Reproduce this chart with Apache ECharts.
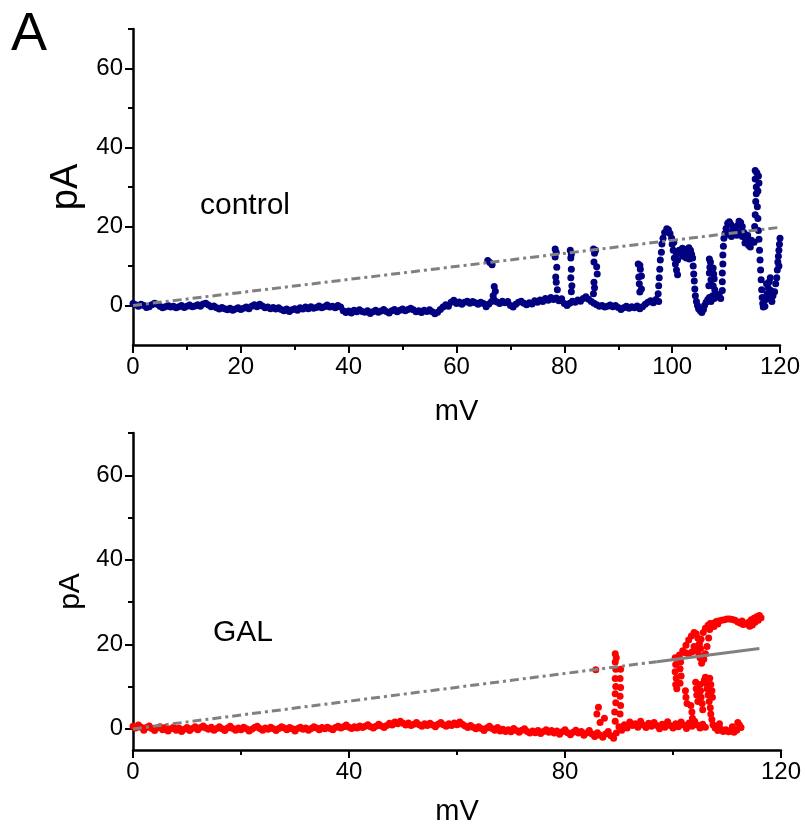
<!DOCTYPE html>
<html>
<head>
<meta charset="utf-8">
<script src="https://cdn.jsdelivr.net/npm/echarts@6/dist/echarts.min.js"></script>
<style>html,body{margin:0;padding:0;background:#fff}#chart{width:805px;height:829px}</style>
</head>
<body>
<div id="chart"></div>
<script>
// ---------- DATA ----------
const panelLetter = 'A';
const topLabel = 'control';
const bottomLabel = 'GAL';
const xName = 'mV';
const yName = 'pA';

const topXTicks = [0, 20, 40, 60, 80, 100, 120];
const bottomXTicks = [0, 40, 80, 120];
const yMajorTicks = [0, 20, 40, 60];
const yMinorTicks = [10, 30, 50, 70];

// control (mV, pA)
const controlBaseline = [
[0,0.5],[0.5,0.2],[1,-0.2],[1.5,0.3],[2,0],[2.5,-0.5],[3,-0.3],[3.5,0.2],[4,0.6],[4.5,0.3],
[5,-0.2],[5.5,-0.6],[6,-0.3],[6.5,0],[7,-0.4],[7.5,-0.2],[8,-0.6],[8.5,-0.3],[9,0],[9.5,-0.5],
[10,-0.2],[10.5,0.1],[11,-0.3],[11.5,-0.1],[12,0.2],[12.5,-0.2],[13,0.4],[13.5,0.6],[14,0.1],[14.5,-0.3],
[15,-0.1],[15.5,-0.6],[16,-0.9],[16.5,-0.5],[17,-0.8],[17.5,-1.1],[18,-0.7],[18.5,-1.2],[19,-0.9],[19.5,-0.6],
[20,-1.0],[20.5,-0.7],[21,-0.4],[21.5,-0.8],[22,-0.2],[22.5,0.2],[23,-0.3],[23.5,0.3],[24,-0.1],[24.5,-0.6],
[25,-0.4],[25.5,-0.8],[26,-0.5],[26.5,-0.9],[27,-0.6],[27.5,-1.0],[28,-1.3],[28.5,-0.9],[29,-1.5],[29.5,-1.1],
[30,-0.8],[30.5,-1.2],[31,-0.6],[31.5,-0.9],[32,-0.4],[32.5,-0.8],[33,-0.3],[33.5,-0.7],[34,-0.5],[34.5,-0.1],
[35,-0.6],[35.5,-0.3],[36,0.1],[36.5,-0.4],[37,-0.2],[37.5,-0.6],[38,0],[38.5,-0.4],[39,-1.3],[39.5,-1.8],
[40,-1.4],[40.5,-1.9],[41,-1.2],[41.5,-1.6],[42,-1.1],[42.5,-1.5],[43,-1.7],[43.5,-1.3],[44,-2.0],[44.5,-1.6],
[45,-1.2],[45.5,-1.7],[46,-1.4],[46.5,-1.0],[47,-1.5],[47.5,-1.9],[48,-1.3],[48.5,-1.0],[49,-1.6],[49.5,-1.2],
[50,-0.9],[50.5,-1.3],[51,-1.0],[51.5,-0.7],[52,-1.1],[52.5,-1.6],[53,-1.3],[53.5,-1.8],[54,-1.2],[54.5,-1.5],
[55,-1.1],[55.5,-1.6],[56,-2.1],[56.5,-1.7],[57,-1.0],[57.5,-0.4],[58,0.2],[58.5,-0.2],[59,0.8],[59.5,1.3],
[60,0.5],[60.5,0.9],[61,0.3],[61.5,0.8],[62,1.1],[62.5,0.6],[63,1.0],[63.5,0.7],[64,0.3],[64.5,0.8],
[65,0.5],[65.5,-0.3],[66,0.4],[66.5,1.0],[67,1.4],[67.5,0.9],[68,0.5],[68.5,1.1],[69,0.7],[69.5,1.0],
[70,0],[70.5,-0.4],[71,0.3],[71.5,0.8],[72,1.1],[72.5,0.6],[73,0.2],[73.5,0.7],[74,0.4],[74.5,1.2],
[75,0.8],[75.5,1.4],[76,1.0],[76.5,1.8],[77,1.3],[77.5,2.0],[78,1.5],[78.5,1.9],[79,1.2],[79.5,1.7],
[80,0.5],[80.5,0],[81,0.6],[81.5,1.1],[82,0.8],[82.5,1.4],[83,1.1],[83.5,1.8],[84,2.2],[84.5,1.6],
[85,1.0],[85.5,0.6],[86,0.2],[86.5,-0.2],[87,0],[87.5,-0.4],[88,-0.2],[88.5,0.1],[89,-0.3],[89.5,0],
[90,-0.5],[90.5,-1.0],[91,-0.6],[91.5,-0.2],[92,-0.7],[92.5,-0.3],[93,-0.6],[93.5,-0.1],[94,-0.8],[94.5,-0.3],
[95,0.3],[95.5,0.8],[96,1.2],[96.5,0.7],[97,1.5],[97.5,1.0]
];
const controlEvents = [
[65.8,11.4],[66.2,10.9],[66.6,10.3],[67.0,4.8],[67.2,3.6],[66.8,2.5],
[78.3,14.3],[78.5,13.4],[78.3,12.3],[78.6,9.7],[78.4,7.2],[78.5,5.9],[78.7,4.0],
[81.1,14.0],[81.3,13.0],[81.2,12.0],[81.3,9.2],[81.2,7.0],[81.4,5.0],[81.3,3.5],
[85.4,14.3],[85.8,14.0],[85.6,13.2],[85.5,11.0],[86.0,9.8],[86.1,8.0],[85.5,5.9],[85.6,4.5],[85.4,3.0],
[93.7,10.5],[94.0,10.2],[94.1,9.2],[93.8,7.2],[94.3,7.5],[93.9,5.5],[94.0,3.4],[94.3,4.2],
[97.4,3.0],[97.5,5.0],[97.6,7.0],[97.7,9.2],[97.8,11.5],[98.0,13.5],[98.1,15.6],[98.3,17.0],[98.6,18.5],
[99.0,19.4],[99.3,19.2],[99.6,18.2],[99.9,17.0],[100.0,15.5],[100.2,14.0],[100.4,12.0],[100.6,10.5],
[100.8,9.0],[101.0,7.8],[100.3,16.0],[100.8,13.0],[101.0,11.5],
[101.3,14.0],[101.6,13.2],[101.9,14.5],[102.2,13.8],[102.5,14.2],[102.8,13.5],[103.1,14.6],[103.4,14.0],
[103.6,13.0],[102.0,12.5],[102.6,12.0],[103.2,11.8],
[103.8,12.0],[103.9,10.0],[104.0,8.0],[104.1,6.2],[104.2,4.2],[104.3,2.5],[104.5,1.0],[104.7,0],
[104.9,-0.8],[105.2,-1.3],[105.5,-1.8],[105.8,-1.0],[106.0,0],[106.3,0.8],[106.6,1.5],[106.9,2.0],
[107.2,1.0],[107.5,2.5],[107.8,1.8],[108.1,3.0],[108.4,2.2],[108.7,2.8],[109.0,1.8],
[106.9,11.8],[107.1,11.0],[107.0,9.7],[106.9,8.2],[107.2,6.5],[106.8,5.0],
[107.6,9.5],[107.7,8.0],[107.8,6.8],[107.6,5.0],[107.9,4.0],
[109.3,3.8],[109.3,6.0],[109.3,8.2],[109.4,10.5],[109.4,12.8],[109.5,15.0],[109.6,17.0],[109.8,18.2],
[110.0,19.5],[110.3,20.8],[110.6,21.2],[110.9,20.5],[111.2,19.0],[111.5,18.0],[111.8,18.8],[112.1,20.2],
[112.4,21.3],[112.7,21.0],[113.0,20.0],[113.3,18.5],[113.6,17.0],[113.9,16.2],[114.2,15.2],[114.5,14.8],
[110.5,18.0],[111.0,17.5],[111.5,19.5],[112.0,17.8],[112.5,18.5],[113.0,17.5],[113.5,15.8],[114.0,17.8],[114.7,16.5],
[115.2,16.0],[115.3,20.0],[115.4,23.0],[115.5,26.3],[115.6,28.3],[115.6,30.0],[115.4,32.0],[115.4,34.2],
[115.7,33.6],[116.0,32.8],[116.1,31.0],[115.9,29.0],[115.8,25.0],[115.9,22.0],[116.0,19.0],[116.1,16.8],
[116.2,14.0],[116.3,11.5],[116.4,9.0],[116.5,6.5],[116.6,4.0],[116.7,2.0],[116.8,0.5],[116.9,-0.4],
[117.2,-0.2],[117.4,1.5],[117.6,3.0],[117.8,4.5],[118.0,6.0],[118.2,7.0],[117.5,5.5],[117.9,2.5],
[118.3,3.8],[118.5,1.0],[118.7,2.5],
[119.0,3.5],[119.2,5.5],[119.4,7.0],[119.5,9.0],[119.6,11.0],[119.7,12.5],[119.8,14.0],[119.9,15.5],
[120.0,17.0],[120.2,18.5],[120.3,19.5],[119.8,10.0],[120.1,13.0]
];

// GAL (mV, pA)
const galBaseline = [
[0,0.6],[0.5,0.2],[1,0.9],[1.5,0.4],[2,-0.3],[2.5,0.3],[3,0.7],[3.5,0.1],[4,-0.4],[4.5,0.2],
[5,0.5],[5.5,-0.2],[6,0.3],[6.5,-0.5],[7,0],[7.5,0.4],[8,-0.3],[8.5,0.2],[9,-0.6],[9.5,-0.1],
[10,0.3],[10.5,-0.4],[11,0.1],[11.5,0.5],[12,-0.2],[12.5,0.3],[13,0.7],[13.5,0.2],[14,-0.1],[14.5,0.4],
[15,-0.3],[15.5,0.1],[16,0.5],[16.5,0],[17,-0.4],[17.5,0.2],[18,0.6],[18.5,0.1],[19,-0.3],[19.5,0.2],
[20,-0.2],[20.5,0.4],[21,0],[21.5,-0.5],[22,-0.1],[22.5,0.3],[23,0.6],[23.5,0.1],[24,-0.3],[24.5,0.2],
[25,-0.1],[25.5,0.4],[26,0],[26.5,-0.4],[27,0.1],[27.5,0.5],[28,0.2],[28.5,-0.2],[29,0.3],[29.5,0],
[30,-0.5],[30.5,0.1],[31,0.4],[31.5,-0.1],[32,0.2],[32.5,-0.3],[33,0.1],[33.5,0.5],[34,0.2],[34.5,-0.2],
[35,0.3],[35.5,0],[36,0.4],[36.5,0.1],[37,-0.2],[37.5,0.3],[38,0.6],[38.5,0.2],[39,0.5],[39.5,0.9],
[40,0.4],[40.5,0.1],[41,0.5],[41.5,0.2],[42,0.7],[42.5,0.3],[43,0.6],[43.5,1.0],[44,0.5],[44.5,0.2],
[45,0.6],[45.5,1.1],[46,0.7],[46.5,0.3],[47,0.8],[47.5,1.3],[48,0.9],[48.5,1.6],[49,1.2],[49.5,1.8],
[50,1.3],[50.5,0.9],[51,1.4],[51.5,0.8],[52,1.1],[52.5,1.5],[53,1.0],[53.5,0.6],[54,1.2],[54.5,0.8],
[55,1.3],[55.5,0.9],[56,0.5],[56.5,1.1],[57,1.5],[57.5,1.0],[58,0.6],[58.5,1.2],[59,0.8],[59.5,1.4],
[60,1.0],[60.5,1.6],[61,1.1],[61.5,0.7],[62,0.3],[62.5,0.8],[63,0.4],[63.5,0],[64,0.5],[64.5,0.1],
[65,-0.4],[65.5,0.2],[66,0.6],[66.5,0.1],[67,-0.3],[67.5,0.3],[68,-0.5],[68.5,-0.1],[69,-0.6],[69.5,-0.2],
[70,-0.7],[70.5,0.1],[71,-0.4],[71.5,-0.8],[72,-0.3],[72.5,0],[73,-0.6],[73.5,-1.0],[74,-0.5],[74.5,-0.9],
[75,-0.4],[75.5,-1.1],[76,-0.6],[76.5,-0.2],[77,-0.8],[77.5,-0.4],[78,-1.0],[78.5,-0.5],[79,-1.3],[79.5,-0.7],
[80,-0.2],[80.5,-0.9],[81,-1.4],[81.5,-0.8],[82,-0.3],[82.5,-1.0],[83,-0.6],[83.5,-1.5],[84,-1.0],[84.5,-0.4],
[85,-1.2],[85.5,-1.8],[86,-0.9],[86.5,-1.5],[87,-2.0],[87.5,-1.2],[88,-0.6],[88.5,-1.6],[89,-2.2],[89.5,-1.0],
[90,0.5],[90.5,-0.3],[91,1.0],[91.5,0.2],[92,1.6],[92.5,0.8],[93,1.2],[93.5,0.4],[94,1.8],[94.5,0.9],
[95,0.3],[95.5,1.3],[96,0.6],[96.5,1.5],[97,0.8],[97.5,0],[98,1.1],[98.5,0.4],[99,1.7],[99.5,0.8],
[100,0.2],[100.5,1.2],[101,0.5],[101.5,1.6],[102,0.9],[102.5,0.1],[103,1.4],[103.5,0.6],[104,1.8],[104.5,0.9],
[105,0.2],[105.5,1.1],[106,0.4]
];
const galEvents = [
[85.7,14.0],[85.9,3.5],[86.2,5.1],[86.5,1.5],[87.3,2.5],
[89.3,17.8],[89.5,16.8],[89.3,15.8],[89.4,14.1],[89.3,11.9],[89.4,10.0],[89.3,8.3],[89.4,6.2],[89.2,4.0],[89.3,1.8],
[90.3,14.1],[90.2,11.9],[90.3,9.8],[90.2,7.7],[90.3,5.5],[90.2,3.5],
[100.4,16.8],[100.5,15.2],[100.4,13.5],[100.6,12.0],[100.5,10.5],[100.7,9.5],
[101.2,17.5],[101.4,15.8],[101.3,14.2],[101.5,12.5],[101.3,10.8],
[101.8,18.5],[102.4,19.8],[102.9,21.0],[103.4,22.0],[103.9,22.8],[104.3,22.5],[104.6,21.5],[104.9,20.2],
[105.1,19.0],[104.8,17.5],[104.4,18.5],[103.9,19.5],[103.5,18.2],[102.9,17.8],[102.3,18.0],
[104.5,19.5],[105.2,21.2],[105.6,22.8],[106.0,23.8],[106.5,24.5],[106.8,23.5],[106.6,21.5],[106.3,19.5],
[106.0,17.8],[105.7,16.5],[105.3,15.5],[105.0,16.8],
[107.0,24.5],[107.5,25.0],[108.0,25.4],[108.5,25.5],[109.0,25.7],[109.5,25.8],[110.0,26.0],[110.5,26.0],
[111.0,25.9],[111.5,25.7],[112.0,25.3],[112.5,25.0],[113.0,24.7],[113.5,24.8],[114.0,25.2],[114.5,25.8],
[115.0,26.2],[115.5,26.5],[116.0,26.8],[116.3,26.3],[115.8,25.7],[115.2,25.2],[114.7,24.6],[114.2,24.3],
[112.8,25.5],[108.3,24.8],[107.6,24.2],[106.9,24.9],
[102.3,9.0],[102.4,7.5],[102.6,6.0],[103.3,5.5],[103.5,4.0],[103.6,2.5],
[104.2,11.0],[104.3,9.5],[104.4,8.0],[104.6,6.5],[105.0,10.5],[105.1,9.0],[105.2,7.5],[105.4,6.0],[105.5,4.5],[105.8,11.5],
[106.0,12.2],[106.1,10.8],[106.3,9.5],[106.5,8.0],[106.7,6.5],[106.9,5.0],[107.0,3.5],[107.2,2.2],[107.4,1.0],
[106.8,12.0],[107.0,10.5],[107.2,9.0],[107.3,7.5],
[107.8,0.2],[108.3,-0.4],[108.8,0],[109.3,-0.6],[109.8,-0.2],[110.3,-0.7],[110.8,-0.3],[111.3,-0.8],
[111.8,-0.3],[112.3,0.9],[112.6,0.3],[111.0,0.5],[108.6,1.2],[112.0,1.5]
];

// linear fits
const controlFitX = [0, 120];
const controlFitY = [0, 19.8];
const galFitX = [0, 97, 116];
const galFitY = [0, 15.9, 19.0];

// ---------- CHART ----------
const FONT = '"Liberation Sans", Arial, Helvetica, sans-serif';
const pairs = (xs, ys) => xs.map((x, i) => [x, ys[i]]);
const axisLineStyle = { color: '#000', width: 2.5 };
const labelStyle = { color: '#000', fontSize: 24, fontFamily: FONT };

function xAxisFor(grid, interval, gap) {
  return {
    type: 'value', gridIndex: grid, min: 0, max: 120, interval: interval,
    axisLine: { show: true, onZero: false, lineStyle: axisLineStyle },
    axisTick: { show: true, inside: false, length: 8, lineStyle: { color: '#000', width: 2 } },
    minorTick: { show: true, splitNumber: 2, length: 5, lineStyle: { color: '#000', width: 2 } },
    splitLine: { show: false },
    axisLabel: Object.assign({ margin: 10 }, labelStyle),
    name: xName, nameLocation: 'middle', nameGap: gap,
    nameTextStyle: { color: '#000', fontSize: 29, fontFamily: FONT }
  };
}
function yAxisMajor(grid, min, nameSize, gap) {
  return {
    type: 'value', gridIndex: grid, min: min, max: 70, position: 'left',
    axisLine: { show: true, onZero: false, lineStyle: axisLineStyle },
    axisTick: { show: true, inside: false, length: 8, customValues: yMajorTicks, lineStyle: { color: '#000', width: 2 } },
    axisLabel: Object.assign({ margin: 10, customValues: yMajorTicks }, labelStyle),
    splitLine: { show: false },
    name: yName, nameLocation: 'middle', nameGap: gap, nameRotate: 90,
    nameTextStyle: { color: '#000', fontSize: nameSize, fontFamily: FONT }
  };
}
function yAxisMinor(grid, min) {
  return {
    type: 'value', gridIndex: grid, min: min, max: 70, position: 'left', offset: 0,
    axisLine: { show: false },
    axisTick: { show: true, inside: false, length: 5, customValues: yMinorTicks, lineStyle: { color: '#000', width: 2 } },
    axisLabel: { show: false },
    splitLine: { show: false }
  };
}

const chart = echarts.init(document.getElementById('chart'), null, { renderer: 'canvas' });
chart.setOption({
  animation: false,
  backgroundColor: '#fff',
  grid: [
    { left: 133, top: 29, width: 647, height: 316 },
    { left: 133, top: 433, width: 648, height: 317 }
  ],
  xAxis: [ xAxisFor(0, 20, 52), xAxisFor(1, 40, 47) ],
  yAxis: [ yAxisMajor(0, -10, 38, 44), yAxisMinor(0, -10), yAxisMajor(1, -5, 30, 45), yAxisMinor(1, -5) ],
  graphic: [
    { type: 'text', left: 11, top: 8, style: { text: panelLetter, fontSize: 54, fontFamily: FONT, fill: '#000' } },
    { type: 'text', x: 245, y: 206, style: { text: topLabel, fontSize: 30, fontFamily: FONT, fill: '#000', align: 'center', verticalAlign: 'middle' } },
    { type: 'text', x: 243, y: 633, style: { text: bottomLabel, fontSize: 30, fontFamily: FONT, fill: '#000', align: 'center', verticalAlign: 'middle' } }
  ],
  series: [
    { type: 'scatter', xAxisIndex: 0, yAxisIndex: 0, data: controlBaseline.concat(controlEvents),
      symbol: 'circle', symbolSize: 7, itemStyle: { color: '#000080', opacity: 1 }, z: 2 },
    { type: 'line', xAxisIndex: 0, yAxisIndex: 0, data: pairs(controlFitX, controlFitY), showSymbol: false,
      lineStyle: { color: '#808080', width: 3, type: [9, 4, 3, 4] }, z: 3 },
    { type: 'scatter', xAxisIndex: 1, yAxisIndex: 2, data: galBaseline.concat(galEvents),
      symbol: 'circle', symbolSize: 7, itemStyle: { color: '#ff0000', opacity: 1 }, z: 2 },
    { type: 'line', xAxisIndex: 1, yAxisIndex: 2, data: pairs(galFitX.slice(0, 2), galFitY.slice(0, 2)), showSymbol: false,
      lineStyle: { color: '#808080', width: 3, type: [9, 4, 3, 4] }, z: 3 },
    { type: 'line', xAxisIndex: 1, yAxisIndex: 2, data: pairs(galFitX.slice(1), galFitY.slice(1)), showSymbol: false,
      lineStyle: { color: '#808080', width: 3, type: 'solid' }, z: 3 }
  ]
});
</script>
</body>
</html>
